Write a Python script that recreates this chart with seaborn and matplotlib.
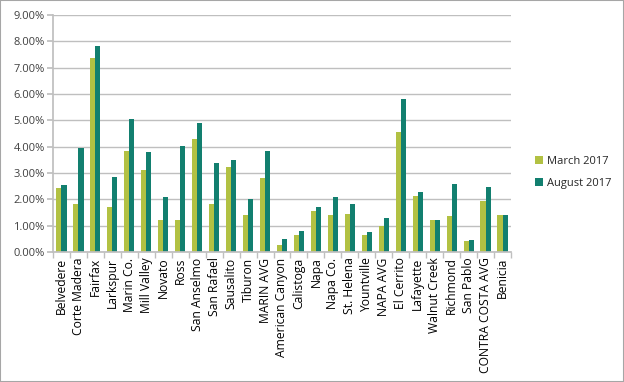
import matplotlib

matplotlib.use("Agg")
import matplotlib.pyplot as plt
import numpy as np
import pandas as pd
import seaborn as sns
from matplotlib.ticker import FixedLocator, PercentFormatter

places = [
    "Belvedere", "Corte Madera", "Fairfax", "Larkspur", "Marin Co.", "Mill Valley",
    "Novato", "Ross", "San Anselmo", "San Rafael", "Sausalito", "Tiburon", "MARIN AVG",
    "American Canyon", "Calistoga", "Napa", "Napa Co.", "St. Helena", "Yountville",
    "NAPA AVG", "El Cerrito", "Lafayette", "Walnut Creek", "Richmond", "San Pablo",
    "CONTRA COSTA AVG", "Benicia",
]
march_2017 = [
    2.43, 1.84, 7.37, 1.71, 3.85, 3.11, 1.20, 1.23, 4.30, 1.81, 3.24, 1.42, 2.81,
    0.25, 0.66, 1.57, 1.42, 1.44, 0.66, 1.00, 4.56, 2.14, 1.23, 1.37, 0.43, 1.92, 1.42,
]
august_2017 = [
    2.53, 3.95, 7.81, 2.85, 5.05, 3.80, 2.09, 4.01, 4.90, 3.37, 3.51, 2.03, 3.82,
    0.48, 0.80, 1.71, 2.09, 1.81, 0.76, 1.28, 5.81, 2.29, 1.23, 2.58, 0.47, 2.48, 1.42,
]
series = ["March 2017", "August 2017"]
colors = ["#C2D62E", "#00917C"]

df = pd.DataFrame({"place": places, series[0]: march_2017, series[1]: august_2017})
long = df.melt(id_vars="place", var_name="period", value_name="rate")

sns.set_theme(style="white")
plt.rcParams["font.family"] = ["Open Sans", "DejaVu Sans"]

fig = plt.figure(figsize=(6.24, 3.82), dpi=100)
ax = fig.add_axes([53 / 624, 1 - 252 / 382, (511 - 53) / 624, (252 - 15) / 382])

sns.barplot(
    data=long, x="place", y="rate", hue="period", hue_order=series,
    palette=colors, width=0.6, ax=ax, edgecolor="none",
)

ax.set_ylim(0, 9)
ax.set_xlim(-0.5, len(places) - 0.5)
ax.yaxis.set_major_locator(FixedLocator(np.arange(0, 10, 1)))
ax.yaxis.set_major_formatter(PercentFormatter(decimals=2))
ax.grid(axis="y", color="#BFBFBF", linewidth=1)
ax.set_axisbelow(True)
ax.set_xlabel("")
ax.set_ylabel("")
for s in ["top", "right"]:
    ax.spines[s].set_visible(False)
ax.spines["left"].set_color("#BFBFBF")
ax.spines["bottom"].set_color("#BFBFBF")

ax.tick_params(axis="y", labelsize=8, colors="#404040", length=4, color="#BFBFBF", left=True, pad=2)
ax.tick_params(axis="x", which="major", labelsize=8.7, colors="black", length=0, pad=4)
ax.set_xticks(range(len(places)))
ax.set_xticklabels(places, rotation=90)
ax.xaxis.set_minor_locator(FixedLocator(np.arange(-0.5, len(places), 1)))
ax.tick_params(axis="x", which="minor", length=4, color="#BFBFBF", bottom=True)

ax.legend(
    loc="center left", bbox_to_anchor=(1.03, 0.335), frameon=False, fontsize=8,
    handlelength=0.7, handleheight=0.7, handletextpad=0.4, labelspacing=1.0,
)

fig.patches.append(plt.Rectangle((0, 0), 1, 1, transform=fig.transFigure,
                                 fill=False, edgecolor="#A6A6A6", linewidth=1.5))

fig.savefig("out.png", dpi=100)
